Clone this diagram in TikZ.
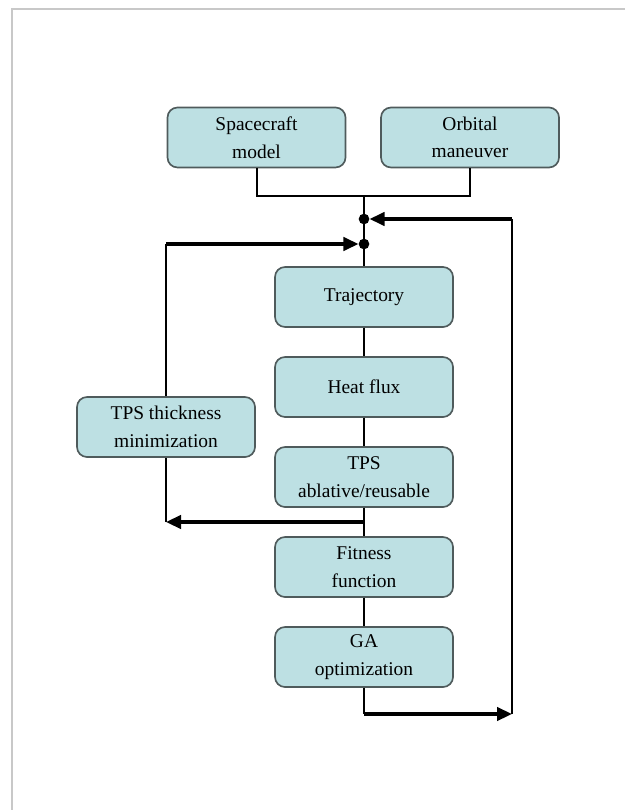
\documentclass[tikz,border=0pt]{standalone}
\usepackage{fontspec}
\setmainfont{Liberation Serif}
\usepackage{tikz}
\usepackage{xcolor}
\usetikzlibrary{arrows.meta,positioning,calc}
\definecolor{boxfill}{HTML}{BDE0E3}
\definecolor{boxedge}{HTML}{4F5B5C}
\definecolor{framegray}{HTML}{C8C8C8}
\tikzset{
  card/.style={draw=boxedge,fill=boxfill,line width=0.5mm,rounded corners=3mm,
               align=center,inner sep=2pt,minimum width=53.4mm,minimum height=18mm,
               font=\fontsize{16.6}{23.5}\selectfont},
  joint/.style={circle,fill=black,inner sep=0pt,minimum size=3.2mm},
  wire/.style={line width=0.6mm,draw=black},
  backarr/.style={-{Triangle[length=4.5mm,width=4mm]},line width=0.95mm,
                  draw=black},
  frameline/.style={line width=0.45mm,draw=framegray}
}
\begin{document}
\begin{tikzpicture}[x=0.3mm,y=-0.3mm]
    \path[use as bounding box] (0,0) rectangle (625,810);
    \draw[frameline] (12,810) -- (12,9) -- (625,9);

    % inputs
    \node[card] (craft) at (256.5,137.5) {Spacecraft\\model};
    \node[card] (orbit) at (470,137.5) {Orbital\\maneuver};

    % main chain
    \node[card] (traj) at (364,297) {Trajectory};
    \node[card] (heat) at (364,387) {Heat flux};
    \node[card] (tps) at (364,477) {TPS\\ablative/reusable};
    \node[card] (fit) at (364,567) {Fitness\\function};
    \node[card] (ga) at (364,657) {GA\\optimization};
    \node[card] (thick) at (166,427) {TPS thickness\\minimization};

    \coordinate (join) at (364,196);
    \node[joint] (dotA) at (364,219) {};
    \node[joint] (dotB) at (364,244) {};

    \draw[wire] (craft) |- (join) -| (orbit);
    \draw[wire] (join) -- (traj);
    \draw[wire] (traj) -- (heat);
    \draw[wire] (heat) -- (tps);
    \draw[wire] (tps) -- (fit);
    \draw[wire] (fit) -- (ga);

    % outer loop
    \coordinate (gaturn) at (364,714);
    \coordinate (rc) at (512,714);
    \coordinate (rt) at (512,219);
    \draw[wire] (ga) -- (gaturn);
    \draw[backarr] (gaturn) -- (rc);
    \draw[wire] (rc) -- (rt);
    \draw[backarr] (rt) -- (dotA);

    % thickness loop
    \coordinate (tap) at (364,522);
    \coordinate (lc) at (166,522);
    \coordinate (lt) at (166,244);
    \draw[backarr] (tap) -- (lc);
    \draw[wire] (lc) -- (thick);
    \draw[wire] (thick) -- (lt);
    \draw[backarr] (lt) -- (dotB);
  \end{tikzpicture}
\end{document}
